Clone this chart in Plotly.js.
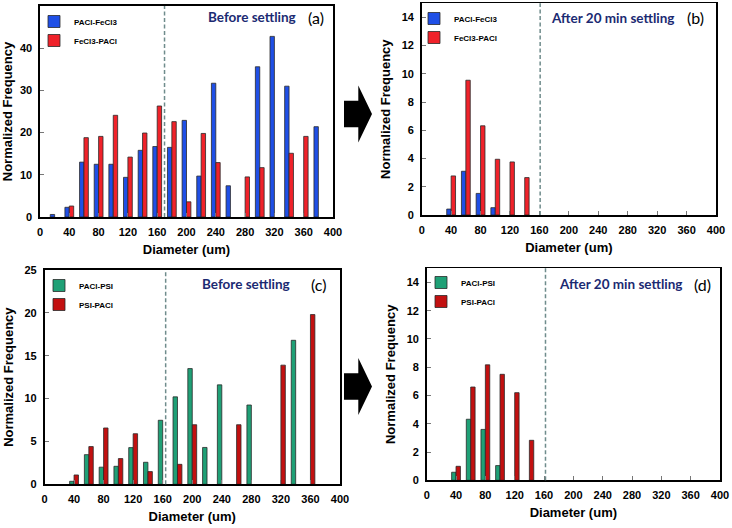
<!DOCTYPE html>
<html>
<head>
<meta charset="utf-8">
<script src="https://cdn.plot.ly/plotly-3.0.1.min.js"></script>
<style>html,body{margin:0;padding:0;background:#fff;}#chart{width:732px;height:528px;}</style>
</head>
<body>
<div id="chart"></div>
<script>
// ---- data ----
const bins = [20,40,60,80,100,120,140,160,180,200,220,240,260,280,300,320,340,360,380];
const binsAfter = [40,60,80,100,120,140];
const paclFecl3Before = [0.6,2.3,13.0,12.5,12.5,9.4,15.8,16.7,16.5,22.9,9.7,31.7,7.4,null,35.6,42.8,31.0,null,21.4];
const fecl3PaclBefore = [null,2.6,18.8,19.1,24.1,14.2,19.9,26.3,22.6,3.6,19.8,12.9,null,9.5,11.7,null,15.1,19.1,null];
const paclFecl3After = [0.42,3.1,1.53,0.52,null,null];
const fecl3PaclAfter = [2.77,9.55,6.32,3.95,3.76,2.65];
const paclPsiBefore = [null,0.35,3.46,2.0,2.1,4.28,2.57,7.47,10.2,13.5,4.3,11.6,null,9.25,null,null,16.8,null,null];
const psiPaclBefore = [null,1.09,4.4,6.57,3.0,5.9,1.48,null,2.33,6.95,null,null,6.95,null,null,13.9,null,19.8,null];
const paclPsiAfter = [0.57,4.32,3.6,1.04,null,null];
const psiPaclAfter = [0.99,6.6,8.17,7.5,6.2,2.83];
const cutoffs = [170,161,164,162];
const xTicks = [0,40,80,120,160,200,240,280,320,360,400];
const seriesNames = ['PACl-FeCl3','FeCl3-PACl','PACl-PSI','PSI-PACl'];
const panelLabels = ['(a)','(b)','(c)','(d)'];
const stageLabels = ['Before settling','After 20 min settling','Before settling','After 20 min settling'];

// ---- style ----
const W = 732, H = 528;
const px = p => p / W;
const py = p => 1 - p / H;
const BLUE = '#1f4fe6', RED = '#f0222a', GREEN = '#1fa076', DRED = '#c21010';
const F = 'Liberation Sans, Arial, sans-serif';
const outline = {color:'#2a2a2a', width:0.8};

function bar(x, y, name, color, xa, ya, lg){
  return {type:'bar', x:x, y:y, name:name, xaxis:xa, yaxis:ya, legend:lg,
    marker:{color:color, line:outline}, hoverinfo:'x+y'};
}
const data = [
  bar(bins, paclFecl3Before, seriesNames[0], BLUE, 'x', 'y', 'legend'),
  bar(bins, fecl3PaclBefore, seriesNames[1], RED, 'x', 'y', 'legend'),
  bar(binsAfter, paclFecl3After, seriesNames[0], BLUE, 'x2', 'y2', 'legend2'),
  bar(binsAfter, fecl3PaclAfter, seriesNames[1], RED, 'x2', 'y2', 'legend2'),
  bar(bins, paclPsiBefore, seriesNames[2], GREEN, 'x3', 'y3', 'legend3'),
  bar(bins, psiPaclBefore, seriesNames[3], DRED, 'x3', 'y3', 'legend3'),
  bar(binsAfter, paclPsiAfter, seriesNames[2], GREEN, 'x4', 'y4', 'legend4'),
  bar(binsAfter, psiPaclAfter, seriesNames[3], DRED, 'x4', 'y4', 'legend4')
];

const common = {showline:true, mirror:true, linecolor:'#000', linewidth:1.6,
  ticks:'inside', ticklen:4, tickwidth:1, tickcolor:'#777', showgrid:false, zeroline:false,
  tickfont:{family:F, size:11, weight:'bold', color:'#000'}, fixedrange:true};
const titleFont = {family:F, size:13, weight:'bold', color:'#000'};

function xax(l, r, anchor){
  return Object.assign({}, common, {domain:[px(l), px(r)], anchor:anchor, range:[0,400],
    tickvals:xTicks, ticklabelstandoff:4,
    title:{text:'Diameter (um)', font:titleFont, standoff:8}});
}
function yax(t, b, anchor, range, dt){
  return Object.assign({}, common, {domain:[py(b), py(t)], anchor:anchor, range:range,
    dtick:dt, ticklabelstandoff:4,
    title:{text:'Normalized Frequency', font:titleFont, standoff:8}});
}

const panels = [
  {l:40, r:333, t:6, b:217},
  {l:421.7, r:716, t:3.3, b:215},
  {l:44.5, r:340, t:270, b:484.3},
  {l:426.7, r:720, t:268.3, b:480.3}
];

function legendAt(x, y){
  return {x:px(x), y:py(y), xanchor:'left', yanchor:'top', bgcolor:'rgba(0,0,0,0)',
    font:{family:F, size:8, weight:'bold', color:'#000'}, tracegroupgap:0, itemclick:false};
}

const shapes = [];
const xrefs = ['x','x2','x3','x4'];
const yrefs = ['y','y2','y3','y4'];
cutoffs.forEach((c,i)=>{
  shapes.push({type:'line', xref:xrefs[i], yref:yrefs[i]+' domain', x0:c, x1:c, y0:0, y1:1,
    line:{color:'#6f8c8c', width:1.5, dash:'4px,2.5px'}});
});
function arrow(cy){
  const x0=344, hx=358.3, tip=372, sh=13.3, hh=28.5;
  const pts = [[x0,cy-sh],[hx,cy-sh],[hx,cy-hh],[tip,cy],[hx,cy+hh],[hx,cy+sh],[x0,cy+sh]];
  return {type:'path', xref:'paper', yref:'paper',
    path:'M'+pts.map(p=>px(p[0]).toFixed(5)+','+py(p[1]).toFixed(5)).join(' L')+' Z',
    fillcolor:'#000', line:{color:'#000', width:0}};
}
shapes.push(arrow(114), arrow(386.5));

const stagePos = [[252,17.3],[612.5,18.3],[245.5,284],[620.5,284.3]];
const labelPos = [[316,17],[695,18],[318,284],[702,284]];
const annotations = [];
for(let i=0;i<4;i++){
  annotations.push({xref:'paper', yref:'paper', x:px(stagePos[i][0]), y:py(stagePos[i][1]),
    xanchor:'center', yanchor:'middle', showarrow:false, text:stageLabels[i],
    font:{family:'Lato, Open Sans, sans-serif', size:13.5, weight:'bold', color:'#1b2a72'}});
  annotations.push({xref:'paper', yref:'paper', x:px(labelPos[i][0]), y:py(labelPos[i][1]),
    xanchor:'center', yanchor:'middle', showarrow:false, text:panelLabels[i],
    font:{family:'Lato, Open Sans, sans-serif', size:16, color:'#000'}});
}

const layout = {
  width:W, height:H, margin:{l:0, r:0, t:0, b:0, pad:0},
  paper_bgcolor:'#fff', plot_bgcolor:'#fff',
  barmode:'group', bargap:0.4, bargroupgap:0,
  showlegend:true,
  xaxis: xax(panels[0].l, panels[0].r, 'y'),
  yaxis: yax(panels[0].t, panels[0].b, 'x', [0,50], 10),
  xaxis2: xax(panels[1].l, panels[1].r, 'y2'),
  yaxis2: yax(panels[1].t, panels[1].b, 'x2', [0,15], 2),
  xaxis3: xax(panels[2].l, panels[2].r, 'y3'),
  yaxis3: yax(panels[2].t, panels[2].b, 'x3', [0,25], 5),
  xaxis4: xax(panels[3].l, panels[3].r, 'y4'),
  yaxis4: yax(panels[3].t, panels[3].b, 'x4', [0,15], 2),
  legend: legendAt(34, 7),
  legend2: legendAt(414, 4),
  legend3: legendAt(39, 271),
  legend4: legendAt(421, 268),
  shapes: shapes,
  annotations: annotations
};
layout.yaxis2.tickvals = [0,2,4,6,8,10,12,14];
layout.yaxis4.tickvals = [0,2,4,6,8,10,12,14];

Plotly.newPlot('chart', data, layout, {displayModeBar:false, staticPlot:true});
</script>
</body>
</html>
